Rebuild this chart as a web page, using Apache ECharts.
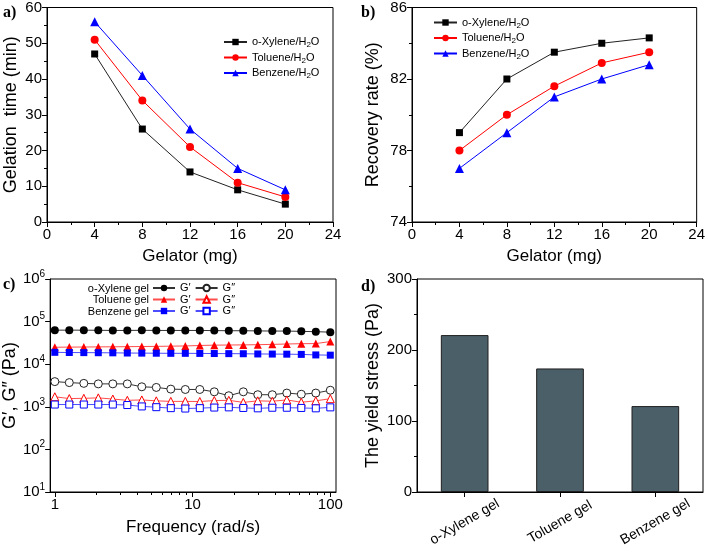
<!DOCTYPE html>
<html>
<head>
<meta charset="utf-8">
<script src="https://cdn.jsdelivr.net/npm/echarts@6/dist/echarts.min.js"></script>
<style>html,body{margin:0;padding:0;background:#fff}#c{width:708px;height:552px}</style>
</head>
<body>
<div id="c"></div>
<script>
// ---------- data ----------
const gelator = [4, 8, 12, 16, 20];
const timeXylene = [47, 26, 14, 9, 5];
const timeToluene = [51, 34, 21, 11, 7];
const timeBenzene = [56, 41, 26, 15, 9];
const recXylene = [79.0, 82.0, 83.5, 84.0, 84.3];
const recToluene = [78.0, 80.0, 81.6, 82.9, 83.5];
const recBenzene = [77.0, 79.0, 81.0, 82.0, 82.8];
const freq = [1, 1.274, 1.624, 2.069, 2.637, 3.36, 4.281, 5.456, 6.952, 8.859, 11.29, 14.38, 18.33, 23.36, 29.76, 37.93, 48.33, 61.58, 78.48, 100];
const xyleneGp = [63000, 63000, 63000, 62500, 62000, 62000, 62500, 62000, 62000, 62000, 62000, 61500, 61000, 61000, 60500, 60000, 60000, 59000, 58000, 56500];
const xyleneGpp = [3900, 3700, 3550, 3450, 3450, 3450, 2950, 2850, 2600, 2550, 2550, 2250, 1820, 2250, 1920, 1920, 2100, 1970, 2100, 2450];
const tolueneGp = [25000, 25200, 25300, 25500, 25600, 25800, 26000, 26200, 26500, 26800, 27500, 28000, 28200, 28400, 28700, 29200, 29800, 30300, 30500, 34000];
const tolueneGpp = [1720, 1560, 1580, 1620, 1520, 1420, 1450, 1380, 1340, 1340, 1330, 1400, 1420, 1270, 1380, 1350, 1450, 1280, 1380, 1550];
const benzeneGp = [19000, 18800, 18700, 18600, 18500, 18300, 18200, 18100, 18000, 18000, 17900, 17800, 17700, 17600, 17400, 17300, 17200, 17000, 16500, 16300];
const benzeneGpp = [1130, 1130, 1130, 1130, 1130, 1100, 1020, 980, 930, 910, 930, 960, 970, 940, 920, 950, 950, 940, 920, 970];
const gels = ['o-Xylene gel', 'Toluene gel', 'Benzene gel'];
const yieldStress = [221, 174, 121];
const legendAB = ['o-Xylene/H{sub|2}O', 'Toluene/H{sub|2}O', 'Benzene/H{sub|2}O'];
const freqMajor = [1, 10, 100];
const freqMinor = [2, 3, 4, 5, 6, 7, 8, 9, 20, 30, 40, 50, 60, 70, 80, 90];
const modTicks = [10, 100, 1000, 10000, 100000, 1000000];

// ---------- helpers ----------
const FONT = '"Liberation Sans", Arial, sans-serif';
const BLACK = '#000', RED = '#ff0000', BLUE = '#0000ff';
const pairs = (xs, ys) => xs.map((x, i) => [x, ys[i]]);
const axisBase = (extra) => Object.assign({
  axisLine: {show: true, onZero: false, lineStyle: {color: '#000', width: 1}},
  axisTick: {show: true, length: 5, lineStyle: {color: '#000'}},
  minorTick: {show: true, splitNumber: 2, length: 3, lineStyle: {color: '#000'}},
  splitLine: {show: false},
  axisLabel: {color: '#000', fontSize: 15, fontFamily: FONT, margin: 5},
  nameLocation: 'middle',
  nameTextStyle: {color: '#000', fontSize: 17, fontFamily: FONT}
}, extra);
const gridBox = (g) => Object.assign({show: true, borderColor: '#000', borderWidth: 1, containLabel: false}, g);
const lineSeries = (name, xi, yi, data, color, symbol, size, lineColor, hollow) => ({
  name, type: 'line', xAxisIndex: xi, yAxisIndex: yi, data, symbol, symbolSize: size,
  color, animation: false,
  lineStyle: {width: 1, color: lineColor || color},
  itemStyle: hollow ? {color: '#fff', borderColor: color, borderWidth: 1} : {color: color, borderWidth: 0}
});
const subRich = {sub: {fontSize: 8, lineHeight: 8, verticalAlign: 'bottom', fontFamily: FONT, color: '#000'}};

const chart = echarts.init(document.getElementById('c'), null, {renderer: 'canvas'});

const nameMapA = {aX: legendAB[0], aT: legendAB[1], aB: legendAB[2]};
const nameMapB = {bX: legendAB[0], bT: legendAB[1], bB: legendAB[2]};
const cPrime = {cXp: 'G\u2032', cXpp: 'G\u2033', cTp: 'G\u2032', cTpp: 'G\u2033', cBp: 'G\u2032', cBpp: 'G\u2033'};

const legendText = {fontSize: 11, fontFamily: FONT, color: '#000', lineHeight: 14, rich: subRich};

const option = {
  backgroundColor: '#fff',
  animation: false,
  grid: [
    gridBox({left: 47, top: 7, width: 286, height: 215}),
    gridBox({left: 412, top: 7, width: 286, height: 215}),
    gridBox({left: 47, top: 279, width: 289, height: 213}),
    gridBox({left: 417, top: 279, width: 286, height: 213})
  ],
  xAxis: [
    axisBase({gridIndex: 0, type: 'value', min: 0, max: 24, interval: 4, name: 'Gelator (mg)', nameGap: 26}),
    axisBase({gridIndex: 1, type: 'value', min: 0, max: 24, interval: 4, name: 'Gelator (mg)', nameGap: 26}),
    axisBase({gridIndex: 2, type: 'log', min: 0.925, max: 110, name: 'Frequency (rad/s)', nameGap: 27,
      minorTick: {show: false},
      axisTick: {show: true, length: 5, customValues: freqMajor, lineStyle: {color: '#000'}},
      axisLabel: {color: '#000', fontSize: 15, fontFamily: FONT, margin: 5, customValues: freqMajor, formatter: v => String(Math.round(v))}}),
    {gridIndex: 2, type: 'log', min: 0.925, max: 110, position: 'bottom',
      axisLine: {show: false}, splitLine: {show: false}, axisLabel: {show: false},
      axisTick: {show: true, length: 3, customValues: freqMinor, lineStyle: {color: '#000'}}},
    axisBase({gridIndex: 3, type: 'category', data: gels, minorTick: {show: false},
      axisTick: {show: true, length: 5, alignWithLabel: true, lineStyle: {color: '#000'}},
      axisLabel: {color: '#000', fontSize: 14, fontFamily: FONT, rotate: 30, margin: 30, align: 'center', verticalAlign: 'middle', interval: 0}})
  ],
  yAxis: [
    axisBase({gridIndex: 0, type: 'value', min: 0, max: 60, interval: 10, name: 'Gelation  time (min)', nameGap: 27,
      nameTextStyle: {color: '#000', fontSize: 18, fontFamily: FONT}}),
    axisBase({gridIndex: 1, type: 'value', min: 74, max: 86, interval: 4, name: 'Recovery rate (%)', nameGap: 30,
      nameTextStyle: {color: '#000', fontSize: 18, fontFamily: FONT}}),
    axisBase({gridIndex: 2, type: 'log', min: 10, max: 1000000, name: 'G\u2032, G\u2033 (Pa)', nameGap: 29,
      nameTextStyle: {color: '#000', fontSize: 18, fontFamily: FONT},
      minorTick: {show: false},
      axisTick: {show: true, length: 5, customValues: modTicks, lineStyle: {color: '#000'}},
      axisLabel: {color: '#000', fontSize: 15, fontFamily: FONT, margin: 5, customValues: modTicks, lineHeight: 20,
        formatter: v => '10{s|' + Math.round(Math.log10(v)) + '}',
        rich: {s: {fontSize: 10, lineHeight: 10, verticalAlign: 'top', fontFamily: FONT, color: '#000'}}}}),
    axisBase({gridIndex: 3, type: 'value', min: 0, max: 300, interval: 100, name: 'The yield stress (Pa)', nameGap: 35,
      nameTextStyle: {color: '#000', fontSize: 18, fontFamily: FONT}})
  ],
  legend: [
    {data: ['aX', 'aT', 'aB'], orient: 'vertical', left: 223, top: 35, padding: 0, itemGap: 1.5, itemWidth: 23, itemHeight: 8,
      formatter: n => nameMapA[n], textStyle: legendText, selectedMode: false},
    {data: ['bX', 'bT', 'bB'], orient: 'vertical', left: 433, top: 15.5, padding: 0, itemGap: 1.5, itemWidth: 23, itemHeight: 8,
      formatter: n => nameMapB[n], textStyle: legendText, selectedMode: false},
    {data: ['cXp', 'cXpp'], orient: 'horizontal', left: 152, top: 282.5, padding: 0, itemGap: 4, itemWidth: 22, itemHeight: 8,
      formatter: n => cPrime[n], textStyle: {fontSize: 11, fontFamily: FONT, color: '#000'}, selectedMode: false},
    {data: ['cTp', 'cTpp'], orient: 'horizontal', left: 152, top: 294, padding: 0, itemGap: 4, itemWidth: 22, itemHeight: 8,
      formatter: n => cPrime[n], textStyle: {fontSize: 11, fontFamily: FONT, color: '#000'}, selectedMode: false},
    {data: ['cBp', 'cBpp'], orient: 'horizontal', left: 152, top: 305.5, padding: 0, itemGap: 4, itemWidth: 22, itemHeight: 8,
      formatter: n => cPrime[n], textStyle: {fontSize: 11, fontFamily: FONT, color: '#000'}, selectedMode: false}
  ],
  graphic: [
    {type: 'text', left: 3, top: 5, style: {text: 'a)', font: 'bold 16px "Liberation Serif", serif', fill: '#000'}},
    {type: 'text', left: 361, top: 5, style: {text: 'b)', font: 'bold 16px "Liberation Serif", serif', fill: '#000'}},
    {type: 'text', left: 3, top: 277, style: {text: 'c)', font: 'bold 16px "Liberation Serif", serif', fill: '#000'}},
    {type: 'text', left: 361, top: 279, style: {text: 'd)', font: 'bold 16px "Liberation Serif", serif', fill: '#000'}},
    {type: 'text', x: 149, y: 288.7, style: {text: gels[0], textAlign: 'right', textVerticalAlign: 'middle', font: '11px "Liberation Sans", Arial', fill: '#000'}},
    {type: 'text', x: 149, y: 300.3, style: {text: gels[1], textAlign: 'right', textVerticalAlign: 'middle', font: '11px "Liberation Sans", Arial', fill: '#000'}},
    {type: 'text', x: 149, y: 311.7, style: {text: gels[2], textAlign: 'right', textVerticalAlign: 'middle', font: '11px "Liberation Sans", Arial', fill: '#000'}}
  ],
  series: [
    lineSeries('aX', 0, 0, pairs(gelator, timeXylene), BLACK, 'rect', 7, '#222'),
    lineSeries('aT', 0, 0, pairs(gelator, timeToluene), RED, 'circle', 8),
    lineSeries('aB', 0, 0, pairs(gelator, timeBenzene), BLUE, 'triangle', 9),
    lineSeries('bX', 1, 1, pairs(gelator, recXylene), BLACK, 'rect', 7, '#222'),
    lineSeries('bT', 1, 1, pairs(gelator, recToluene), RED, 'circle', 8),
    lineSeries('bB', 1, 1, pairs(gelator, recBenzene), BLUE, 'triangle', 9),
    lineSeries('cXp', 2, 2, pairs(freq, xyleneGp), BLACK, 'circle', 8, '#333'),
    lineSeries('cXpp', 2, 2, pairs(freq, xyleneGpp), '#222', 'circle', 8, '#333', true),
    lineSeries('cTp', 2, 2, pairs(freq, tolueneGp), RED, 'triangle', 8, '#ff4d4d'),
    lineSeries('cTpp', 2, 2, pairs(freq, tolueneGpp), RED, 'triangle', 8, '#ff4d4d', true),
    lineSeries('cBp', 2, 2, pairs(freq, benzeneGp), BLUE, 'rect', 7, '#4d4dff'),
    lineSeries('cBpp', 2, 2, pairs(freq, benzeneGpp), BLUE, 'rect', 7, '#4d4dff', true),
    {name: 'yield', type: 'bar', xAxisIndex: 4, yAxisIndex: 3, data: yieldStress, barWidth: '50%',
      itemStyle: {color: '#4b5f69', borderColor: '#1e1e1e', borderWidth: 1}, animation: false}
  ]
};
chart.setOption(option);
</script>
</body>
</html>
